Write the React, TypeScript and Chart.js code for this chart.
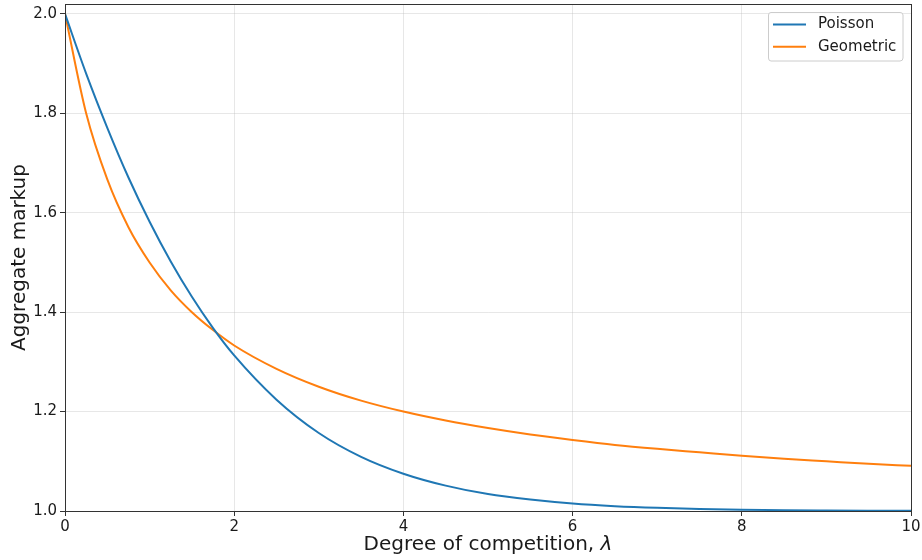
import React, { useEffect, useRef } from "react";
import { Chart, registerables } from "chart.js";

Chart.register(...registerables);

const lambdaValues = [0, 0.25, 0.5, 0.75, 1, 1.25, 1.5, 1.75, 2, 2.5, 3, 3.5, 4, 4.5, 5, 5.5, 6, 6.5, 7, 7.5, 8, 8.5, 9, 9.5, 10];
const poissonMarkup = [2.0, 1.88, 1.771, 1.671, 1.582, 1.502, 1.431, 1.368, 1.313, 1.224, 1.157, 1.109, 1.075, 1.051, 1.034, 1.023, 1.015, 1.0098, 1.0064, 1.0042, 1.0027, 1.0017, 1.0011, 1.0007, 1.0005];
const geometricMarkup = [2.0, 1.8, 1.667, 1.571, 1.5, 1.444, 1.4, 1.364, 1.333, 1.286, 1.25, 1.222, 1.2, 1.182, 1.167, 1.154, 1.143, 1.133, 1.125, 1.118, 1.111, 1.105, 1.1, 1.095, 1.091];
const seriesLabels = ["Poisson", "Geometric"];
const seriesColors = ["#1f77b4", "#ff7f0e"];
const xTicks = [0, 2, 4, 6, 8, 10];
const yTicks = [1.0, 1.2, 1.4, 1.6, 1.8, 2.0];
const xTitleText = "Degree of competition, ";
const xTitleSymbol = "λ";
const yTitle = "Aggregate markup";

const FONT = "'DejaVu Sans', sans-serif";

const framePlugin = {
  id: "frameAndLegend",
  afterDraw(chart: any) {
    const { ctx, chartArea } = chart;
    ctx.save();
    ctx.strokeStyle = "#333333";
    ctx.lineWidth = 1;
    ctx.strokeRect(
      Math.round(chartArea.left) + 0.5,
      Math.round(chartArea.top) + 0.5,
      Math.round(chartArea.right - chartArea.left),
      Math.round(chartArea.bottom - chartArea.top)
    );
    // x title with italic symbol
    ctx.fillStyle = "#1a1a1a";
    ctx.textBaseline = "middle";
    ctx.textAlign = "left";
    const normalFont = `20px ${FONT}`;
    const italicFont = `italic 20px ${FONT}`;
    ctx.font = normalFont;
    const w1 = ctx.measureText(xTitleText).width;
    ctx.font = italicFont;
    const w2 = ctx.measureText(xTitleSymbol).width;
    const cx = (chartArea.left + chartArea.right) / 2;
    const sx = cx - (w1 + w2) / 2;
    const ty = 545;
    ctx.font = normalFont;
    ctx.fillText(xTitleText, sx, ty);
    ctx.font = italicFont;
    ctx.fillText(xTitleSymbol, sx + w1, ty);

    // legend
    const bx = 768, by = 12, bw = 135, bh = 49;
    ctx.fillStyle = "rgba(255,255,255,0.85)";
    ctx.strokeStyle = "#cccccc";
    ctx.lineWidth = 1;
    ctx.beginPath();
    const r = 3;
    ctx.moveTo(bx + r, by + 0.5);
    ctx.lineTo(bx + bw - r, by + 0.5);
    ctx.quadraticCurveTo(bx + bw, by + 0.5, bx + bw, by + r);
    ctx.lineTo(bx + bw, by + bh - r);
    ctx.quadraticCurveTo(bx + bw, by + bh, bx + bw - r, by + bh);
    ctx.lineTo(bx + r, by + bh);
    ctx.quadraticCurveTo(bx + 0.5, by + bh, bx + 0.5, by + bh - r);
    ctx.lineTo(bx + 0.5, by + r);
    ctx.quadraticCurveTo(bx + 0.5, by + 0.5, bx + r, by + 0.5);
    ctx.closePath();
    ctx.fill();
    ctx.stroke();
    chart.data.datasets.forEach((ds: any, i: number) => {
      const y = 24.5 + i * 22.3;
      ctx.strokeStyle = ds.borderColor;
      ctx.lineWidth = 2;
      ctx.beginPath();
      ctx.moveTo(773, y);
      ctx.lineTo(806, y);
      ctx.stroke();
      ctx.fillStyle = "#1a1a1a";
      ctx.font = `15px ${FONT}`;
      ctx.textBaseline = "middle";
      ctx.textAlign = "left";
      ctx.fillText(ds.label, 818, y);
    });
    ctx.restore();
  },
};

export default function App() {
  const canvasRef = useRef<HTMLCanvasElement | null>(null);

  useEffect(() => {
    document.body.style.margin = "0";
    const canvas = canvasRef.current;
    if (!canvas) return;
    const datasets = [poissonMarkup, geometricMarkup].map((vals, i) => ({
      label: seriesLabels[i],
      data: lambdaValues.map((x, j) => ({ x, y: vals[j] })),
      borderColor: seriesColors[i],
      backgroundColor: seriesColors[i],
      borderWidth: 2,
      pointRadius: 0,
      cubicInterpolationMode: "monotone" as const,
      fill: false,
    }));
    const chart = new Chart(canvas, {
      type: "line",
      data: { datasets },
      options: {
        responsive: false,
        animation: false,
        layout: { padding: { top: 4, right: 11, left: 0, bottom: 0 } },
        plugins: {
          legend: { display: false },
          tooltip: { enabled: false },
        },
        scales: {
          x: {
            type: "linear",
            min: 0,
            max: 10,
            afterBuildTicks: (scale: any) => {
              scale.ticks = xTicks.map((v) => ({ value: v }));
            },
            afterFit: (scale: any) => {
              scale.height = 49;
              scale.paddingLeft = 0;
              scale.paddingRight = 0;
            },
            ticks: {
              font: { family: FONT, size: 15 },
              color: "#1a1a1a",
              padding: 2,
              maxRotation: 0,
              callback: (v: any) => String(v),
            },
            grid: {
              color: "rgba(176,176,176,0.3)",
              tickColor: "#333333",
              tickLength: 5,
            },
            border: { display: true, color: "#333333", width: 1 },
            title: { display: false },
          },
          y: {
            type: "linear",
            min: 1.0,
            max: 2.02,
            afterBuildTicks: (scale: any) => {
              scale.ticks = yTicks.map((v) => ({ value: v }));
            },
            afterFit: (scale: any) => {
              scale.width = 65;
              scale.paddingTop = 0;
              scale.paddingBottom = 0;
            },
            ticks: {
              font: { family: FONT, size: 15 },
              color: "#1a1a1a",
              padding: 3,
              callback: (v: any) => Number(v).toFixed(1),
            },
            grid: {
              color: "rgba(176,176,176,0.3)",
              tickColor: "#333333",
              tickLength: 5,
            },
            border: { display: true, color: "#333333", width: 1 },
            title: {
              display: true,
              text: yTitle,
              font: { family: FONT, size: 20 },
              color: "#1a1a1a",
              padding: { top: 8, bottom: 0 },
            },
          },
        },
      },
      plugins: [framePlugin],
    });
    return () => chart.destroy();
  }, []);

  return (
    <div style={{ position: "absolute", left: 0, top: 0, width: 922, height: 560, background: "#fff" }}>
      <canvas ref={canvasRef} width={922} height={560} />
    </div>
  );
}
